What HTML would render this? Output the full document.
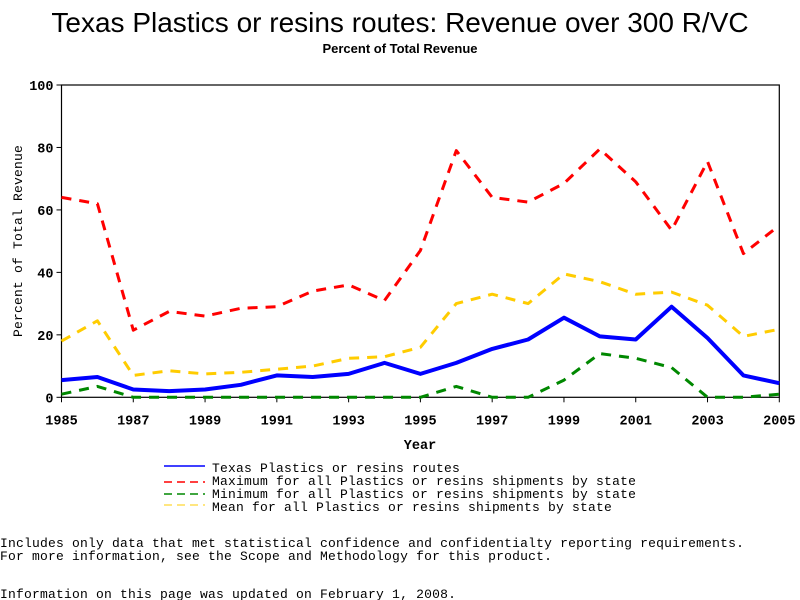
<!DOCTYPE html>
<html><head><meta charset="utf-8"><style>
body{margin:0;background:#fff;width:800px;height:600px;overflow:hidden}
svg{display:block}
.m{font-family:"Liberation Mono",monospace;font-size:13px;letter-spacing:0.2px}
.t{font-family:"Liberation Mono",monospace;font-size:13.5px;font-weight:bold}
</style></head><body>
<svg width="800" height="600" viewBox="0 0 800 600">
<text x="400" y="32" text-anchor="middle" font-family="Liberation Sans,sans-serif" font-size="28">Texas Plastics or resins routes: Revenue over 300 R/VC</text>
<text x="400" y="53" text-anchor="middle" font-family="Liberation Sans,sans-serif" font-size="13" font-weight="bold">Percent of Total Revenue</text>
<g id="axes"></g>
<g id="series"></g>
<text x="420" y="449" text-anchor="middle" class="t">Year</text>
<text transform="translate(22,241) rotate(-90)" text-anchor="middle" class="m" font-size="12" letter-spacing="2">Percent of Total Revenue</text>
<g>
<line x1="164" y1="466" x2="205" y2="466" stroke="#00f" stroke-width="1.5"/>
<text x="212" y="472" class="m">Texas Plastics or resins routes</text>
<line x1="164" y1="482" x2="205" y2="482" stroke="#f00" stroke-width="1.5" stroke-dasharray="8,5"/>
<text x="212" y="485" class="m">Maximum for all Plastics or resins shipments by state</text>
<line x1="164" y1="494" x2="205" y2="494" stroke="#080" stroke-width="1.5" stroke-dasharray="8,5"/>
<text x="212" y="498" class="m">Minimum for all Plastics or resins shipments by state</text>
<line x1="164" y1="505" x2="205" y2="505" stroke="#fc0" stroke-width="1" stroke-dasharray="8,5"/>
<text x="212" y="511" class="m">Mean for all Plastics or resins shipments by state</text>
</g>
<text x="0" y="547" class="m">Includes only data that met statistical confidence and confidentialty reporting requirements.</text>
<text x="0" y="560" class="m">For more information, see the Scope and Methodology for this product.</text>
<text x="0" y="598" class="m">Information on this page was updated on February 1, 2008.</text>
</svg>
<script>
const years=[1985,1986,1987,1988,1989,1990,1991,1992,1993,1994,1995,1996,1997,1998,1999,2000,2001,2002,2003,2004,2005];
const texas=[5.5,6.5,2.5,2,2.5,4,7,6.5,7.5,11,7.5,11,15.5,18.5,25.5,19.5,18.5,29,19,7,4.5];
const maxv=[64,62,21.5,27.5,26,28.5,29,34,36,31,47,79,64,62.5,68.5,79.5,69,53.5,75.5,46,55];
const minv=[1,3.5,0,0,0,0,0,0,0,0,0,3.5,0,0,5.5,14,12.5,9.5,0,0,1];
const meanv=[18,24.5,7,8.5,7.5,8,9,10,12.5,13,16,30,33,30,39.5,37,33,33.7,29.5,19.5,21.8];
const yTicks=[0,20,40,60,80,100];
const xTicks=[1985,1987,1989,1991,1993,1995,1997,1999,2001,2003,2005];
const L=61.5,R=779.3,T=85,B=397.3;
const NS="http://www.w3.org/2000/svg";
function xs(y){return L+(y-1985)/(2005-1985)*(R-L);}
function ys(v){return B-v/100*(B-T);}
function mk(tag,attrs,parent){const e=document.createElementNS(NS,tag);for(const k in attrs)e.setAttribute(k,attrs[k]);parent.appendChild(e);return e;}
const ax=document.getElementById('axes');
let r=mk('rect',{x:L,y:T,width:R-L,height:B-T,fill:'none',stroke:'#000','stroke-width':1.2},ax);


yTicks.forEach(v=>{
 let l=mk('line',{x1:L-5,x2:L,y1:ys(v),y2:ys(v),stroke:'#000'},ax);
 
 
 let t=mk('text',{x:L-8,y:ys(v)+5,'text-anchor':'end',class:'t'},ax);t.textContent=v;
 
 
});
xTicks.forEach(v=>{
 let l=mk('line',{x1:xs(v),x2:xs(v),y1:B,y2:B+5,stroke:'#000'},ax);
 
 
 let t=mk('text',{x:xs(v),y:B+27,'text-anchor':'middle',class:'t'},ax);t.textContent=v;
 
 
});
const sg=document.getElementById('series');
function line(vals,color,w,dash,name){
 const pts=vals.map((v,i)=>xs(years[i]).toFixed(1)+','+ys(v).toFixed(1)).join(' ');
 const a={points:pts,fill:'none',stroke:color,'stroke-width':w,'stroke-linejoin':'round'};
 if(dash)a['stroke-dasharray']=dash;
 const p=mk('polyline',a,sg);
 
 
}
line(minv,'#080',3,'10,8','series-min');
line(meanv,'#fc0',3,'10,8','series-mean');
line(maxv,'#f00',3,'10,8','series-max');
line(texas,'#00f',4,null,'series-texas');
</script>
</body></html>
